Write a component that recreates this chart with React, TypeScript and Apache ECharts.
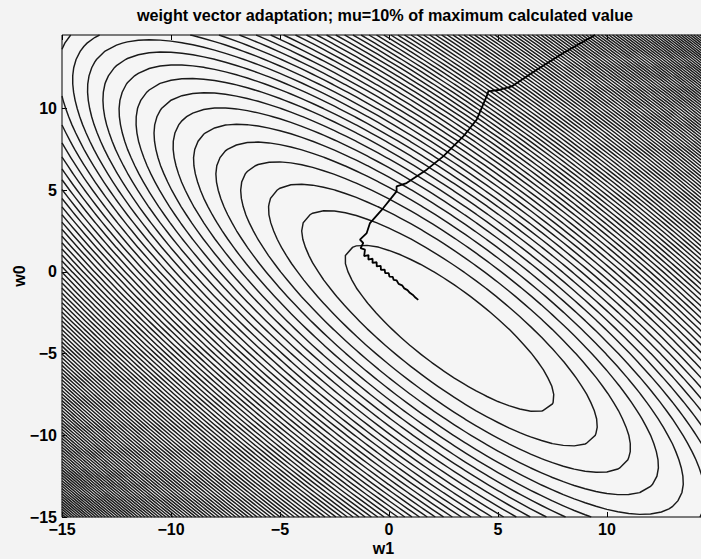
import React, { useEffect, useRef } from "react";
import * as echarts from "echarts";

// ---- axis / tick data ----
const AXIS_MIN = -15;
const AXIS_MAX = 14.5;
const GRID_STEP = 0.5;
const TICK_INTERVAL = 5;

// ---- error surface (quadratic bowl) ----
// centre [w1, w0] and Hessian terms [h11 (w1*w1), h12 (w1*w0), h22 (w0*w0)]
const SURFACE_CENTER = [2.78, -3.45];
const SURFACE_HESSIAN = [1.13, 0.88, 1.0];
const LEVEL_STEP = 8.18;
const LEVEL_COUNT = 120;

// ---- weight trajectory ----
const PATH_W1 = [
  9.45, 8.0, 6.78, 5.63, 5.09, 4.56, 4.48, 4.02, 3.41, 2.49, 1.73, 0.81, 0.35, 0.35,
  -0.26, -0.87, -1.02, -1.33, -1.18, -1.3, -1.1,
  -1.138, -0.936, -0.945, -0.75, -0.753, -0.564, -0.561, -0.377, -0.369, -0.194, -0.174, -0.011,
  0.021, 0.172, 0.216, 0.355, 0.443, 0.602, 0.701, 0.85, 0.957, 1.1, 1.212, 1.344,
];
const PATH_W0 = [
  14.5, 13.4, 12.38, 11.35, 11.15, 11.05, 10.74, 9.31, 8.29, 7.07, 6.26, 5.44, 5.23, 4.93,
  3.91, 2.99, 2.38, 1.97, 1.77, 1.46, 1.36,
  0.967, 1.031, 0.756, 0.808, 0.547, 0.592, 0.337, 0.369, 0.127, 0.145, -0.077, -0.078,
  -0.283, -0.3, -0.488, -0.524, -0.73, -0.821, -1.007, -1.114, -1.282, -1.412, -1.57, -1.71,
];

const TITLE = "weight vector adaptation; mu=10% of maximum calculated value";
const X_NAME = "w1";
const Y_NAME = "w0";

function surface(w1: number, w0: number) {
  const d1 = w1 - SURFACE_CENTER[0];
  const d0 = w0 - SURFACE_CENTER[1];
  return SURFACE_HESSIAN[0] * d1 * d1 + 2 * SURFACE_HESSIAN[1] * d1 * d0 + SURFACE_HESSIAN[2] * d0 * d0;
}

function buildGrid() {
  const xs: number[] = [];
  const n = Math.round((AXIS_MAX - AXIS_MIN) / GRID_STEP) + 1;
  for (let i = 0; i < n; i++) xs.push(AXIS_MIN + i * GRID_STEP);
  const ys = xs.slice();
  const Z = ys.map((y) => xs.map((x) => surface(x, y)));
  return { xs, ys, Z };
}

function contourChains(xs: number[], ys: number[], Z: number[][], level: number) {
  const pts = new Map<string, number[]>();
  const segs: [string, string][] = [];
  const ep = (key: string, x1: number, y1: number, z1: number, x2: number, y2: number, z2: number) => {
    if (!pts.has(key)) {
      const t = (level - z1) / (z2 - z1);
      pts.set(key, [x1 + (x2 - x1) * t, y1 + (y2 - y1) * t]);
    }
    return key;
  };
  for (let j = 0; j < ys.length - 1; j++) {
    for (let i = 0; i < xs.length - 1; i++) {
      const za = Z[j][i], zb = Z[j][i + 1], zc = Z[j + 1][i + 1], zd = Z[j + 1][i];
      const keys: string[] = [];
      if (za >= level !== zb >= level) keys.push(ep(`h${i}_${j}`, xs[i], ys[j], za, xs[i + 1], ys[j], zb));
      if (zb >= level !== zc >= level) keys.push(ep(`v${i + 1}_${j}`, xs[i + 1], ys[j], zb, xs[i + 1], ys[j + 1], zc));
      if (zd >= level !== zc >= level) keys.push(ep(`h${i}_${j + 1}`, xs[i], ys[j + 1], zd, xs[i + 1], ys[j + 1], zc));
      if (za >= level !== zd >= level) keys.push(ep(`v${i}_${j}`, xs[i], ys[j], za, xs[i], ys[j + 1], zd));
      if (keys.length === 2) segs.push([keys[0], keys[1]]);
      else if (keys.length === 4) {
        segs.push([keys[0], keys[1]]);
        segs.push([keys[2], keys[3]]);
      }
    }
  }
  const adj = new Map<string, number[]>();
  segs.forEach((s, idx) => {
    for (const k of s) {
      if (!adj.has(k)) adj.set(k, []);
      adj.get(k)!.push(idx);
    }
  });
  const used = new Array(segs.length).fill(false);
  const chains: number[][][] = [];
  const starts = [...adj.keys()].sort((a, b) => adj.get(a)!.length - adj.get(b)!.length);
  for (const s of starts) {
    let cur = s;
    const chain: number[][] = [pts.get(cur)!];
    for (;;) {
      const list = adj.get(cur)!;
      const idx = list.find((q) => !used[q]);
      if (idx === undefined) break;
      used[idx] = true;
      const seg = segs[idx];
      cur = seg[0] === cur ? seg[1] : seg[0];
      chain.push(pts.get(cur)!);
    }
    if (chain.length > 1) chains.push(chain);
  }
  return chains;
}

const fmt = (v: number) => (Math.abs(v % TICK_INTERVAL) < 1e-9 ? String(v).replace("-", "\u2212") : "");
const FONT = "'Liberation Sans', Arial, Helvetica, sans-serif";

export default function App() {
  const ref = useRef<HTMLDivElement>(null);
  useEffect(() => {
    if (!ref.current) return;
    const chart = echarts.init(ref.current, undefined, { renderer: "svg" });
    const { xs, ys, Z } = buildGrid();
    const contourData: { coords: number[][] }[] = [];
    for (let k = 1; k <= LEVEL_COUNT; k++) {
      contourChains(xs, ys, Z, k * LEVEL_STEP).forEach((c) => contourData.push({ coords: c }));
    }
    const axisCommon = {
      type: "value" as const,
      min: AXIS_MIN,
      max: AXIS_MAX,
      interval: TICK_INTERVAL,
      splitLine: { show: false },
      axisLine: { show: false, onZero: false },
      axisTick: { show: true, inside: true, length: 5, lineStyle: { color: "#000", width: 1 } },
    };
    const labelStyle = { color: "#000", fontSize: 16, fontWeight: "bold" as const, fontFamily: FONT };
    chart.setOption({
      animation: false,
      backgroundColor: "#f3f3f3",
      textStyle: { fontFamily: FONT },
      graphic: [
        {
          type: "text",
          x: 385,
          y: 15,
          silent: true,
          style: {
            text: TITLE,
            align: "center",
            verticalAlign: "middle",
            fontSize: 16.2,
            fontWeight: "bold",
            fill: "#000",
            fontFamily: FONT,
          },
        },
      ],
      grid: {
        left: 62,
        right: -4,
        top: 35,
        bottom: 42,
        show: true,
        borderColor: "#000",
        borderWidth: 1,
        backgroundColor: "#f5f5f5",
        containLabel: false,
        outerBoundsMode: "none",
      },
      xAxis: [
        {
          ...axisCommon,
          position: "bottom",
          name: X_NAME,
          nameLocation: "middle",
          nameGap: 23,
          nameMoveOverlap: false,
          nameTextStyle: labelStyle,
          axisLabel: { show: true, formatter: fmt, margin: 4, showMaxLabel: false, ...labelStyle },
        },
        {
          ...axisCommon,
          position: "top",
          axisLabel: { show: false },
        },
      ],
      yAxis: [
        {
          ...axisCommon,
          position: "left",
          name: Y_NAME,
          nameLocation: "middle",
          nameGap: 35,
          nameMoveOverlap: false,
          nameRotate: 90,
          nameTextStyle: labelStyle,
          axisLabel: { show: true, formatter: fmt, margin: 5, showMaxLabel: false, ...labelStyle },
        },
      ],
      series: [
        {
          type: "lines",
          coordinateSystem: "cartesian2d",
          xAxisIndex: 0,
          yAxisIndex: 0,
          polyline: true,
          silent: true,
          large: false,
          data: contourData,
          lineStyle: { color: "#1a1a1a", width: 1.45, opacity: 1 },
          z: 2,
        },
        {
          type: "line",
          xAxisIndex: 0,
          yAxisIndex: 0,
          data: PATH_W1.map((w1, i) => [w1, PATH_W0[i]]),
          symbol: "none",
          silent: true,
          lineStyle: { color: "#000", width: 1.8 },
          z: 5,
        },
      ],
    });
    return () => chart.dispose();
  }, []);
  return <div ref={ref} style={{ position: "absolute", left: 0, top: 0, width: 701, height: 559 }} />;
}
